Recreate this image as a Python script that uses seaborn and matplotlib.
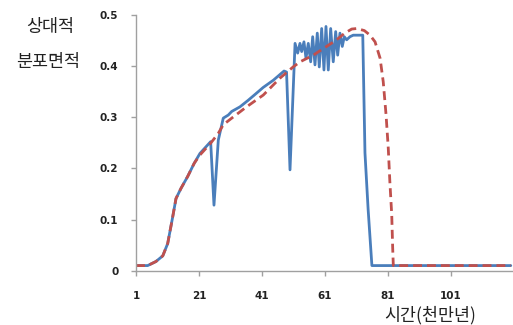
import matplotlib
matplotlib.use("Agg")
import matplotlib.pyplot as plt
import seaborn as sns
import pandas as pd

# Blue series (observed)
blue_x = [1, 4.7, 7.35, 9.5, 11.06, 12.65, 13.7, 15.3, 17.4, 19.5,
          21.3, 24.7, 25.76, 27.13, 28.71, 30.3, 31.38, 34.0, 36.65, 41.4,
          44.6, 48.0, 48.8, 49.9, 51.5, 52.33, 53.06, 53.6, 54.33, 54.97,
          55.7, 56.46, 57.1, 57.83, 58.56, 59.19, 59.95, 60.68, 61.32, 62.05,
          62.81, 63.63, 64.4, 65.03, 65.76, 66.49, 67.13, 67.89, 68.94, 69.98,
          73.0, 73.7, 74.7, 75.9, 120]
blue_y = [0.01, 0.01, 0.018, 0.029, 0.053, 0.105, 0.141, 0.161, 0.184, 0.21,
          0.229, 0.252, 0.128, 0.255, 0.298, 0.304, 0.311, 0.32, 0.333, 0.358,
          0.372, 0.39, 0.388, 0.197, 0.444, 0.425, 0.444, 0.428, 0.447, 0.415,
          0.444, 0.408, 0.457, 0.402, 0.464, 0.398, 0.473, 0.392, 0.477, 0.392,
          0.473, 0.408, 0.467, 0.421, 0.464, 0.438, 0.457, 0.451, 0.457, 0.46,
          0.46, 0.23, 0.12, 0.01, 0.01]

# Red dashed series (smoothed)
red_x = [1, 4.7, 7.35, 9.5, 11.06, 12.65, 13.7, 15.3, 17.4, 19.5,
         21.3, 24.7, 27.1, 28.7, 31.4, 36.1, 41.4, 46.7, 50.9, 53.1,
         57.3, 61.5, 64.5, 67.3, 69.5, 71.1, 73.5, 75.3, 76.9, 78.5,
         79.5, 80.4, 81.1, 81.6, 82.2, 82.5, 82.7, 120]
red_y = [0.01, 0.01, 0.018, 0.029, 0.053, 0.105, 0.141, 0.161, 0.184, 0.21,
         0.226, 0.249, 0.268, 0.285, 0.298, 0.32, 0.343, 0.376, 0.398, 0.408,
         0.421, 0.438, 0.45, 0.464, 0.472, 0.473, 0.469, 0.46, 0.447, 0.415,
         0.369, 0.304, 0.239, 0.174, 0.109, 0.044, 0.01, 0.01]

x_ticks = [1, 21, 41, 61, 81, 101]
y_ticks = [0, 0.1, 0.2, 0.3, 0.4, 0.5]
y_ticklabels = ["0", "0.1", "0.2", "0.3", "0.4", "0.5"]

sns.set_style("white")
plt.rcParams['font.family'] = ['Noto Sans CJK KR', 'DejaVu Sans']

fig = plt.figure(figsize=(5.13, 3.25), dpi=100)
ax = fig.add_axes([136/513, (325-270.7)/325, (513-136)/513, (270.7-14.7)/325])

blue_df = pd.DataFrame({"x": blue_x, "y": blue_y})
red_df = pd.DataFrame({"x": red_x, "y": red_y})

sns.lineplot(data=blue_df, x="x", y="y", ax=ax, color="#4A7EBB",
             linewidth=2.0, sort=False, estimator=None)
sns.lineplot(data=red_df, x="x", y="y", ax=ax, color="#C0504D",
             linewidth=2.0, sort=False, estimator=None)
ax.lines[-1].set_dashes([3.2, 1.8])

ax.set_xlim(1, 120.7)
ax.set_ylim(0, 0.5)
ax.set_xticks(x_ticks)
ax.set_xticklabels([str(t) for t in x_ticks])
ax.set_yticks(y_ticks)
ax.set_yticklabels(y_ticklabels)
ax.set_xlabel("")
ax.set_ylabel("")

for s in ["top", "right"]:
    ax.spines[s].set_visible(False)
for s in ["left", "bottom"]:
    ax.spines[s].set_color("#A0A0A0")
    ax.spines[s].set_linewidth(1.0)

ax.tick_params(axis="both", which="major", direction="out", length=3.6,
               width=1.0, color="#A0A0A0", labelsize=7.5, labelcolor="#222222",
               bottom=True, left=True)
ax.tick_params(axis="y", pad=9)
ax.tick_params(axis="x", pad=11)
for lab in ax.get_xticklabels() + ax.get_yticklabels():
    lab.set_fontweight("bold")
    lab.set_family(["DejaVu Sans"])

fig.text(50/513, 1 - 27/325, "상대적", ha="center", va="center", fontsize=12.5,
         color="#222222")
fig.text(48/513, 1 - 62/325, "분포면적", ha="center", va="center", fontsize=12.5,
         color="#222222")
fig.text(430/513, 1 - 315/325, "시간(천만년)", ha="center", va="center",
         fontsize=12.5, color="#222222")

fig.savefig("out.png", dpi=100)
